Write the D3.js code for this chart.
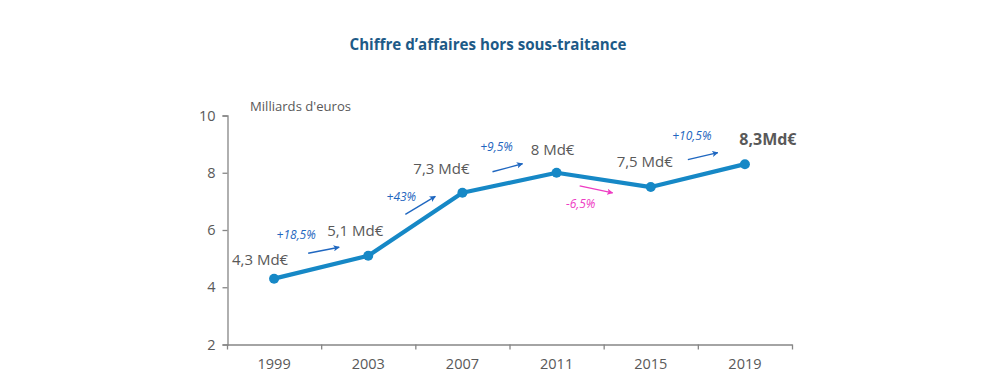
<!DOCTYPE html>
<html><head><meta charset="utf-8">
<script src="https://cdn.jsdelivr.net/npm/d3@7"></script>
<style>body{margin:0;background:#fff}svg{display:block}text{font-family:"Open Sans",sans-serif}</style>
</head><body><svg id="c" width="983" height="383"></svg>
<script>
const years = ["1999","2003","2007","2011","2015","2019"];
const values = [4.3, 5.1, 7.3, 8.0, 7.5, 8.3];
const valueLabels = ["4,3 Md€","5,1 Md€","7,3 Md€","8 Md€","7,5 Md€","8,3Md€"];
const growthLabels = ["+18,5%","+43%","+9,5%","-6,5%","+10,5%"];
const yTicks = [2,4,6,8,10];

// layout (pixel offsets only)
const labelOff = [[-14,-19],[-13,-25],[-21,-24],[-4,-23],[-6,-25],[23,-25]];
const arrowOff = [ // [x1,y1,x2,y2, labelDx,labelDy] relative to segment midpoint
  [-13,-14,18,-20,-25,-32],
  [-10,-10,20,-28,-14,-27],
  [-17,-11,13,-19,-13,-36],
  [-24,6,9,13,-23,24],
  [-10,-16,20,-23,-6,-40]
];

const svg = d3.select("#c");
const x = d3.scaleBand().domain(years).range([227,792]);
const y = d3.scaleLinear().domain([2,10]).range([344.5,115.5]);
const cx = d => x(d) + x.bandwidth()/2;
const gray = "#595959", axisCol = "#868686";

svg.append("text").attr("x",488).attr("y",45).attr("dy","0.35em")
  .attr("text-anchor","middle").attr("font-weight","bold").attr("font-size",15.5)
  .attr("fill","#1d5a87").attr("textLength",277).attr("lengthAdjust","spacingAndGlyphs")
  .text("Chiffre d’affaires hors sous-traitance");

// y axis
const ya = svg.append("g").attr("transform","translate(227.5,0)")
  .call(d3.axisLeft(y).tickValues(yTicks).tickSize(5).tickPadding(7).tickFormat(d3.format("d")));
ya.select(".domain").attr("stroke",axisCol).attr("stroke-width",1.3);
ya.selectAll(".tick line").attr("stroke",axisCol).attr("stroke-width",1.3);
ya.selectAll(".tick text").attr("fill",gray).attr("font-size",14.5).attr("font-family","Open Sans");

// x axis
const xa = svg.append("g").attr("transform","translate(0,344.5)")
  .call(d3.axisBottom(x).tickSize(0).tickPadding(14));
xa.select(".domain").attr("stroke",axisCol).attr("stroke-width",1.3);
xa.selectAll(".tick text").attr("fill",gray).attr("font-size",14.5).attr("font-family","Open Sans");
const bounds = x.domain().map(d => x(d)).concat([x.range()[1]]);
xa.selectAll(".sep").data(bounds).enter().append("line")
  .attr("x1",d=>d+0.5).attr("x2",d=>d+0.5).attr("y1",0).attr("y2",5)
  .attr("stroke",axisCol).attr("stroke-width",1.3);

svg.append("text").attr("x",250).attr("y",106).attr("dy","0.35em")
  .attr("font-size",13).attr("fill",gray).attr("textLength",101).attr("lengthAdjust","spacingAndGlyphs")
  .text("Milliards d'euros");

// line
const line = d3.line().x((d,i)=>cx(years[i])).y(d=>y(d));
svg.append("path").datum(values).attr("d",line).attr("fill","none")
  .attr("stroke","#1688c6").attr("stroke-width",4.2).attr("stroke-linejoin","round");
svg.selectAll(".pt").data(values).enter().append("circle")
  .attr("cx",(d,i)=>cx(years[i])).attr("cy",d=>y(d)).attr("r",5).attr("fill","#1688c6");

// value labels
svg.selectAll(".vl").data(values).enter().append("text")
  .attr("x",(d,i)=>cx(years[i])+labelOff[i][0]).attr("y",(d,i)=>y(d)+labelOff[i][1])
  .attr("dy","0.35em").attr("text-anchor","middle")
  .attr("font-size",(d,i)=>i===5?16:15).attr("font-weight",(d,i)=>i===5?"bold":"normal")
  .attr("fill",gray).text((d,i)=>valueLabels[i]);

// growth arrows
const defs = svg.append("defs");
["#1f67c0","#ee3cc3"].forEach((c,k)=>{
  defs.append("marker").attr("id","ah"+k).attr("viewBox","0 0 10 10").attr("refX",9).attr("refY",5)
    .attr("markerWidth",4.5).attr("markerHeight",4.5).attr("orient","auto")
    .append("path").attr("d","M0,0L10,5L0,10L2.5,5Z").attr("fill",c);
});
growthLabels.forEach((lab,i)=>{
  const mx = (cx(years[i])+cx(years[i+1]))/2, my = (y(values[i])+y(values[i+1]))/2;
  const o = arrowOff[i];
  const neg = values[i+1] < values[i];
  const col = neg ? "#ee3cc3" : "#1f67c0";
  svg.append("line").attr("x1",mx+o[0]).attr("y1",my+o[1]).attr("x2",mx+o[2]).attr("y2",my+o[3])
    .attr("stroke",col).attr("stroke-width",1.4).attr("marker-end",`url(#ah${neg?1:0})`);
  svg.append("text").attr("x",mx+o[4]).attr("y",my+o[5]).attr("dy","0.35em").attr("text-anchor","middle")
    .attr("font-size",12).attr("font-style","italic").attr("fill",col).text(lab);
});
</script></body></html>
